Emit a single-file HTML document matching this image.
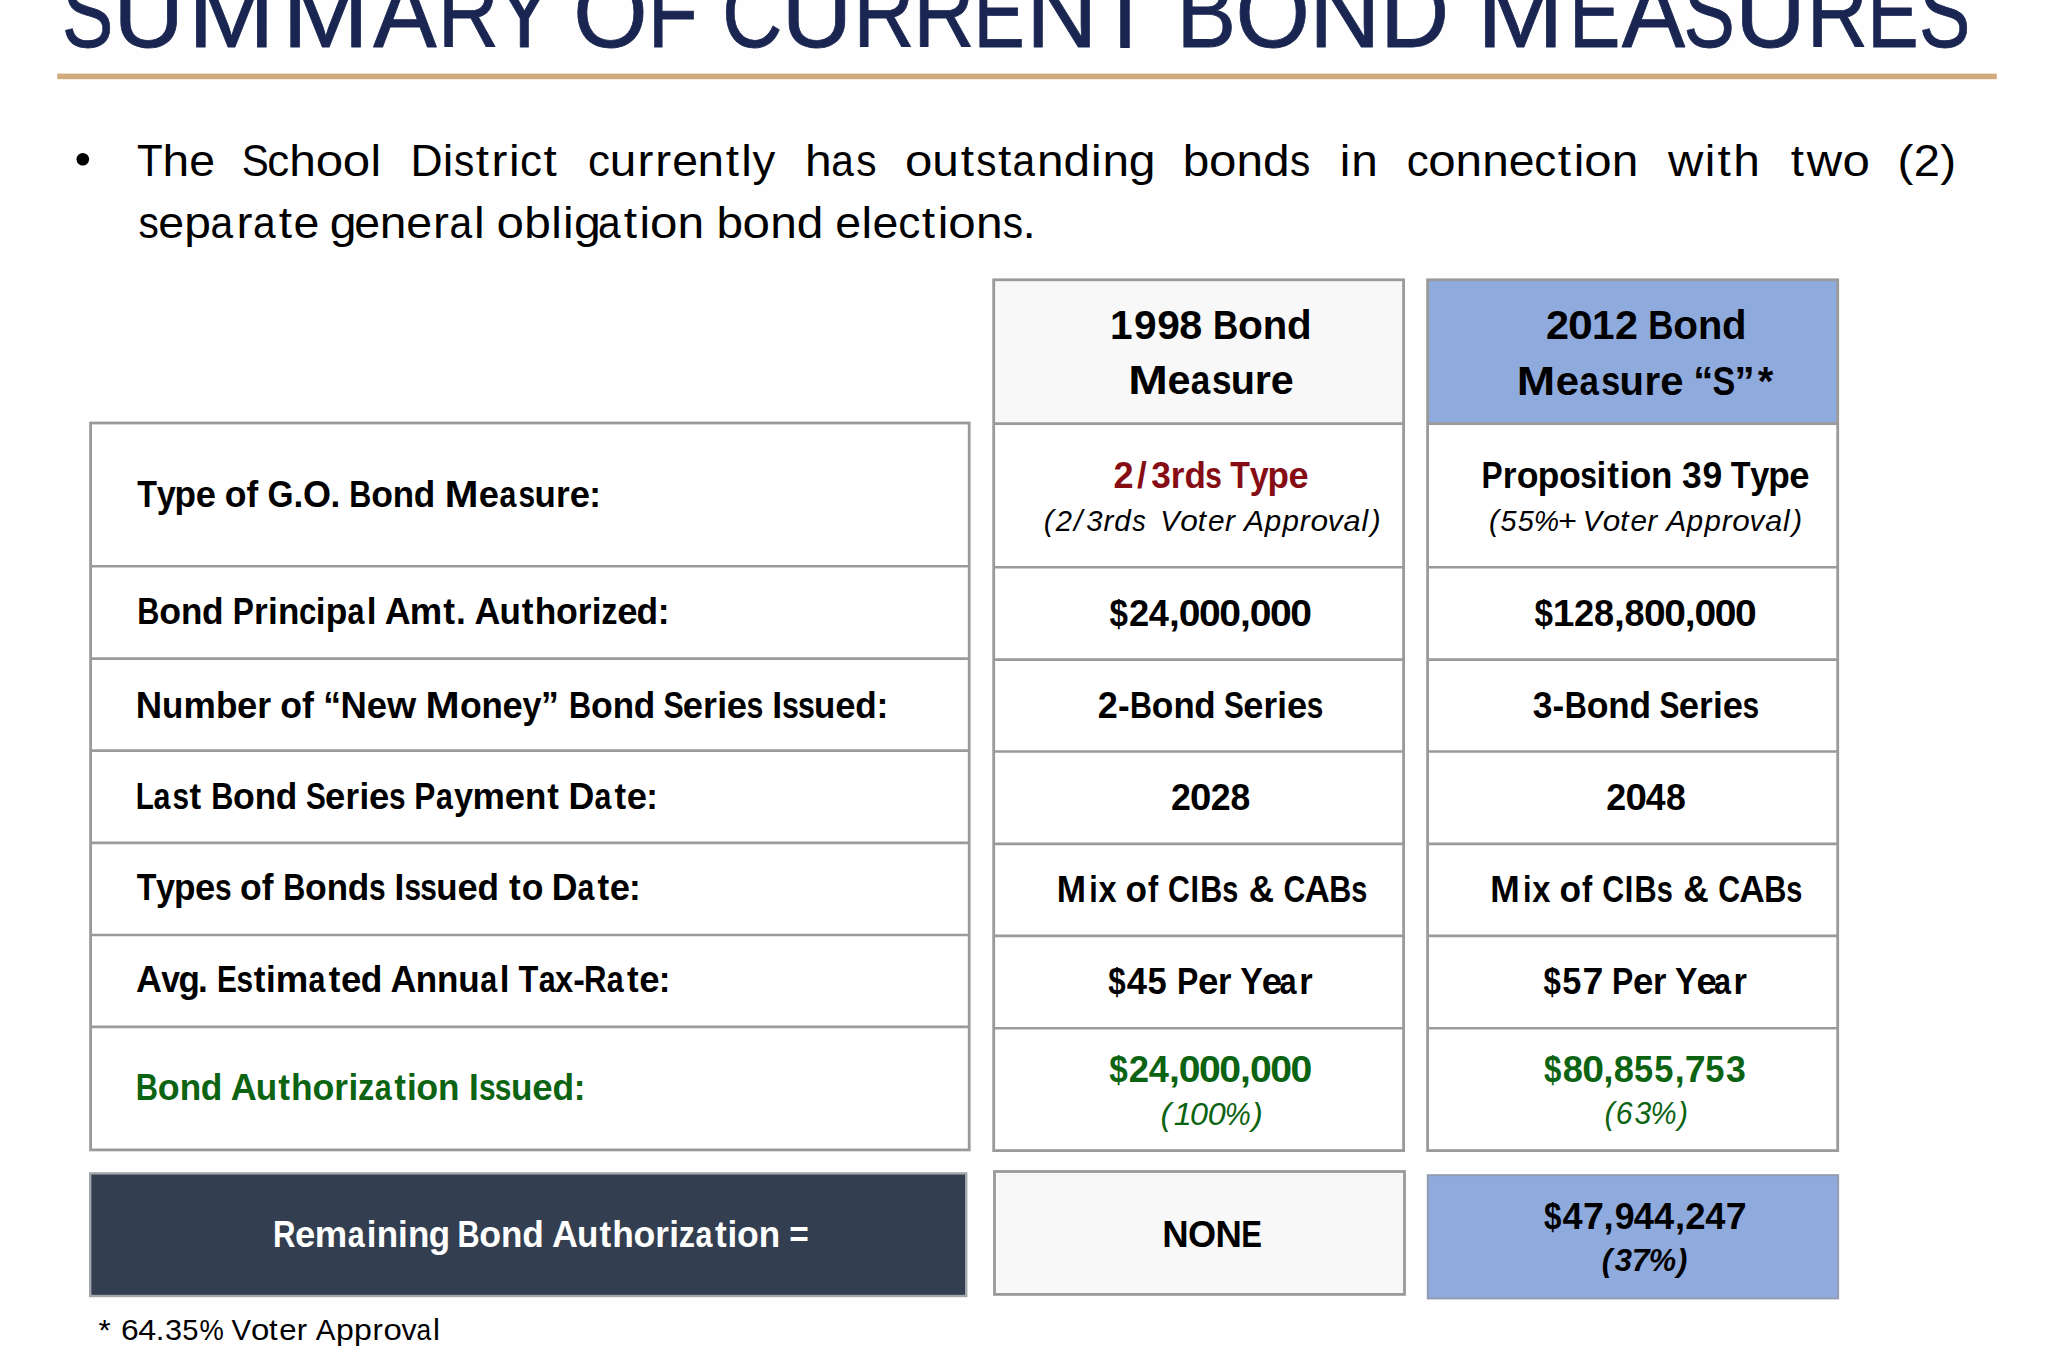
<!DOCTYPE html>
<html><head><meta charset="utf-8"><title>Summary of Current Bond Measures</title>
<style>
html,body{margin:0;padding:0;background:#fff;width:2048px;height:1365px;overflow:hidden}
svg{display:block}
text{font-family:"Liberation Sans",Arial,sans-serif;white-space:pre;stroke-linejoin:round}
</style></head><body>
<svg width="2048" height="1365" viewBox="0 0 2048 1365">
<rect x="0" y="0" width="2048" height="1365" fill="#fefefe"/>
<rect x="57.3" y="73.6" width="1939.50" height="5.60" fill="#d1aa7e"/>
<circle cx="82.8" cy="159.2" r="6.3" fill="#000"/>
<rect x="90.6" y="423.0" width="878.60" height="726.90" fill="#ffffff" stroke="#9a9a9a" stroke-width="2.8"/>
<line x1="90.6" y1="566.3" x2="969.2" y2="566.3" stroke="#9a9a9a" stroke-width="2.6"/>
<line x1="90.6" y1="658.6" x2="969.2" y2="658.6" stroke="#9a9a9a" stroke-width="2.6"/>
<line x1="90.6" y1="750.6" x2="969.2" y2="750.6" stroke="#9a9a9a" stroke-width="2.6"/>
<line x1="90.6" y1="842.9" x2="969.2" y2="842.9" stroke="#9a9a9a" stroke-width="2.6"/>
<line x1="90.6" y1="935.0" x2="969.2" y2="935.0" stroke="#9a9a9a" stroke-width="2.6"/>
<line x1="90.6" y1="1026.9" x2="969.2" y2="1026.9" stroke="#9a9a9a" stroke-width="2.6"/>
<rect x="993.7" y="279.8" width="409.90" height="870.80" fill="#ffffff"/>
<rect x="993.7" y="279.8" width="409.90" height="143.80" fill="#f8f8f8"/>
<line x1="993.7" y1="423.6" x2="1403.6" y2="423.6" stroke="#9a9a9a" stroke-width="2.6"/>
<line x1="993.7" y1="567.3" x2="1403.6" y2="567.3" stroke="#9a9a9a" stroke-width="2.6"/>
<line x1="993.7" y1="659.6" x2="1403.6" y2="659.6" stroke="#9a9a9a" stroke-width="2.6"/>
<line x1="993.7" y1="751.5" x2="1403.6" y2="751.5" stroke="#9a9a9a" stroke-width="2.6"/>
<line x1="993.7" y1="843.9" x2="1403.6" y2="843.9" stroke="#9a9a9a" stroke-width="2.6"/>
<line x1="993.7" y1="935.9" x2="1403.6" y2="935.9" stroke="#9a9a9a" stroke-width="2.6"/>
<line x1="993.7" y1="1028.2" x2="1403.6" y2="1028.2" stroke="#9a9a9a" stroke-width="2.6"/>
<rect x="993.7" y="279.8" width="409.90" height="870.80" fill="none" stroke="#9a9a9a" stroke-width="2.8"/>
<rect x="1427.6" y="279.8" width="410.10" height="870.80" fill="#ffffff"/>
<rect x="1427.6" y="279.8" width="410.10" height="143.80" fill="#8faadc"/>
<line x1="1427.6" y1="423.6" x2="1837.7" y2="423.6" stroke="#9a9a9a" stroke-width="2.6"/>
<line x1="1427.6" y1="567.3" x2="1837.7" y2="567.3" stroke="#9a9a9a" stroke-width="2.6"/>
<line x1="1427.6" y1="659.6" x2="1837.7" y2="659.6" stroke="#9a9a9a" stroke-width="2.6"/>
<line x1="1427.6" y1="751.5" x2="1837.7" y2="751.5" stroke="#9a9a9a" stroke-width="2.6"/>
<line x1="1427.6" y1="843.9" x2="1837.7" y2="843.9" stroke="#9a9a9a" stroke-width="2.6"/>
<line x1="1427.6" y1="935.9" x2="1837.7" y2="935.9" stroke="#9a9a9a" stroke-width="2.6"/>
<line x1="1427.6" y1="1028.2" x2="1837.7" y2="1028.2" stroke="#9a9a9a" stroke-width="2.6"/>
<rect x="1427.6" y="279.8" width="410.10" height="870.80" fill="none" stroke="#9a9a9a" stroke-width="2.8"/>
<rect x="90.2" y="1173.4" width="876.00" height="122.60" fill="#333f50" stroke="#a3a6ab" stroke-width="2.4"/>
<rect x="994.5" y="1171.5" width="410.00" height="122.90" fill="#f8f8f8" stroke="#9a9a9a" stroke-width="2.8"/>
<rect x="1427.8" y="1175.2" width="410.30" height="123.20" fill="#8faadc" stroke="#939cb0" stroke-width="2.0"/>
<text y="47.40" font-size="99.56" fill="#1a2651" stroke="#1a2651" stroke-width="0.8"><tspan x="61.89" textLength="51.34" lengthAdjust="spacingAndGlyphs">S</tspan><tspan x="113.33" textLength="70.87" lengthAdjust="spacingAndGlyphs">U</tspan><tspan x="187.99" textLength="86.75" lengthAdjust="spacingAndGlyphs">M</tspan><tspan x="282.37" textLength="86.75" lengthAdjust="spacingAndGlyphs">M</tspan><tspan x="373.18" textLength="63.43" lengthAdjust="spacingAndGlyphs">A</tspan><tspan x="437.76" textLength="61.29" lengthAdjust="spacingAndGlyphs">R</tspan><tspan x="494.84" textLength="57.58" lengthAdjust="spacingAndGlyphs">Y</tspan> <tspan x="573.21" textLength="74.44" lengthAdjust="spacingAndGlyphs">O</tspan><tspan x="647.66" textLength="50.12" lengthAdjust="spacingAndGlyphs">F</tspan> <tspan x="721.98" textLength="60.54" lengthAdjust="spacingAndGlyphs">C</tspan><tspan x="781.46" textLength="70.87" lengthAdjust="spacingAndGlyphs">U</tspan><tspan x="853.27" textLength="61.29" lengthAdjust="spacingAndGlyphs">R</tspan><tspan x="913.20" textLength="61.29" lengthAdjust="spacingAndGlyphs">R</tspan><tspan x="973.54" textLength="51.34" lengthAdjust="spacingAndGlyphs">E</tspan><tspan x="1025.93" textLength="71.49" lengthAdjust="spacingAndGlyphs">N</tspan><tspan x="1096.59" textLength="55.32" lengthAdjust="spacingAndGlyphs">T</tspan> <tspan x="1176.51" textLength="59.58" lengthAdjust="spacingAndGlyphs">B</tspan><tspan x="1235.47" textLength="74.44" lengthAdjust="spacingAndGlyphs">O</tspan><tspan x="1309.06" textLength="71.49" lengthAdjust="spacingAndGlyphs">N</tspan><tspan x="1380.09" textLength="69.20" lengthAdjust="spacingAndGlyphs">D</tspan> <tspan x="1477.14" textLength="86.75" lengthAdjust="spacingAndGlyphs">M</tspan><tspan x="1569.07" textLength="51.34" lengthAdjust="spacingAndGlyphs">E</tspan><tspan x="1621.85" textLength="63.43" lengthAdjust="spacingAndGlyphs">A</tspan><tspan x="1683.54" textLength="51.34" lengthAdjust="spacingAndGlyphs">S</tspan><tspan x="1734.98" textLength="70.87" lengthAdjust="spacingAndGlyphs">U</tspan><tspan x="1806.79" textLength="61.29" lengthAdjust="spacingAndGlyphs">R</tspan><tspan x="1867.13" textLength="51.34" lengthAdjust="spacingAndGlyphs">E</tspan><tspan x="1918.91" textLength="51.34" lengthAdjust="spacingAndGlyphs">S</tspan></text>
<text y="338.90" font-size="40.99" font-weight="bold" fill="#000000"><tspan x="1110.07" textLength="22.58" lengthAdjust="spacingAndGlyphs">1</tspan><tspan x="1134.03" textLength="22.58" lengthAdjust="spacingAndGlyphs">9</tspan><tspan x="1157.15" textLength="22.58" lengthAdjust="spacingAndGlyphs">9</tspan><tspan x="1179.25" textLength="22.98" lengthAdjust="spacingAndGlyphs">8</tspan> <tspan x="1212.93" textLength="25.37" lengthAdjust="spacingAndGlyphs">B</tspan><tspan x="1237.98" textLength="24.95" lengthAdjust="spacingAndGlyphs">o</tspan><tspan x="1262.83" textLength="24.45" lengthAdjust="spacingAndGlyphs">n</tspan><tspan x="1286.94" textLength="24.62" lengthAdjust="spacingAndGlyphs">d</tspan></text>
<text y="394.40" font-size="40.99" font-weight="bold" fill="#000000"><tspan x="1128.26" textLength="39.58" lengthAdjust="spacingAndGlyphs">M</tspan><tspan x="1167.53" textLength="22.98" lengthAdjust="spacingAndGlyphs">e</tspan><tspan x="1190.84" textLength="19.53" lengthAdjust="spacingAndGlyphs">a</tspan><tspan x="1212.05" textLength="19.53" lengthAdjust="spacingAndGlyphs">s</tspan><tspan x="1230.63" textLength="24.18" lengthAdjust="spacingAndGlyphs">u</tspan><tspan x="1254.74" textLength="16.08" lengthAdjust="spacingAndGlyphs">r</tspan><tspan x="1270.73" textLength="22.98" lengthAdjust="spacingAndGlyphs">e</tspan></text>
<text y="338.90" font-size="40.99" font-weight="bold" fill="#000000"><tspan x="1545.97" textLength="22.97" lengthAdjust="spacingAndGlyphs">2</tspan><tspan x="1568.03" textLength="24.70" lengthAdjust="spacingAndGlyphs">0</tspan><tspan x="1591.99" textLength="22.59" lengthAdjust="spacingAndGlyphs">1</tspan><tspan x="1614.93" textLength="22.97" lengthAdjust="spacingAndGlyphs">2</tspan> <tspan x="1648.37" textLength="25.23" lengthAdjust="spacingAndGlyphs">B</tspan><tspan x="1673.28" textLength="24.81" lengthAdjust="spacingAndGlyphs">o</tspan><tspan x="1697.99" textLength="24.31" lengthAdjust="spacingAndGlyphs">n</tspan><tspan x="1721.96" textLength="24.48" lengthAdjust="spacingAndGlyphs">d</tspan></text>
<text y="394.80" font-size="40.99" font-weight="bold" fill="#000000"><tspan x="1516.76" textLength="38.41" lengthAdjust="spacingAndGlyphs">M</tspan><tspan x="1555.70" textLength="23.28" lengthAdjust="spacingAndGlyphs">e</tspan><tspan x="1579.54" textLength="19.36" lengthAdjust="spacingAndGlyphs">a</tspan><tspan x="1601.21" textLength="18.96" lengthAdjust="spacingAndGlyphs">s</tspan><tspan x="1619.62" textLength="24.49" lengthAdjust="spacingAndGlyphs">u</tspan><tspan x="1644.42" textLength="15.61" lengthAdjust="spacingAndGlyphs">r</tspan><tspan x="1660.24" textLength="23.28" lengthAdjust="spacingAndGlyphs">e</tspan> <tspan x="1693.29" textLength="20.05" lengthAdjust="spacingAndGlyphs">“</tspan><tspan x="1712.51" textLength="22.73" lengthAdjust="spacingAndGlyphs">S</tspan><tspan x="1734.54" textLength="20.05" lengthAdjust="spacingAndGlyphs">”</tspan><tspan x="1757.70" textLength="15.61" lengthAdjust="spacingAndGlyphs">*</tspan></text>
<text y="506.70" font-size="36.77" font-weight="bold" fill="#000000"><tspan x="137.24" textLength="19.68" lengthAdjust="spacingAndGlyphs">T</tspan><tspan x="156.72" textLength="19.02" lengthAdjust="spacingAndGlyphs">y</tspan><tspan x="174.57" textLength="21.47" lengthAdjust="spacingAndGlyphs">p</tspan><tspan x="195.63" textLength="20.24" lengthAdjust="spacingAndGlyphs">e</tspan> <tspan x="224.63" textLength="21.74" lengthAdjust="spacingAndGlyphs">o</tspan><tspan x="246.41" textLength="11.69" lengthAdjust="spacingAndGlyphs">f</tspan> <tspan x="267.41" textLength="26.03" lengthAdjust="spacingAndGlyphs">G</tspan><tspan x="293.50" textLength="9.76" lengthAdjust="spacingAndGlyphs">.</tspan><tspan x="303.12" textLength="28.02" lengthAdjust="spacingAndGlyphs">O</tspan><tspan x="330.50" textLength="9.76" lengthAdjust="spacingAndGlyphs">.</tspan> <tspan x="349.33" textLength="22.10" lengthAdjust="spacingAndGlyphs">B</tspan><tspan x="371.15" textLength="21.74" lengthAdjust="spacingAndGlyphs">o</tspan><tspan x="392.81" textLength="21.30" lengthAdjust="spacingAndGlyphs">n</tspan><tspan x="413.81" textLength="21.45" lengthAdjust="spacingAndGlyphs">d</tspan> <tspan x="444.88" textLength="33.64" lengthAdjust="spacingAndGlyphs">M</tspan><tspan x="478.86" textLength="20.24" lengthAdjust="spacingAndGlyphs">e</tspan><tspan x="499.60" textLength="16.84" lengthAdjust="spacingAndGlyphs">a</tspan><tspan x="518.39" textLength="16.60" lengthAdjust="spacingAndGlyphs">s</tspan><tspan x="534.45" textLength="21.30" lengthAdjust="spacingAndGlyphs">u</tspan><tspan x="555.97" textLength="13.67" lengthAdjust="spacingAndGlyphs">r</tspan><tspan x="569.78" textLength="20.24" lengthAdjust="spacingAndGlyphs">e</tspan><tspan x="589.19" textLength="11.69" lengthAdjust="spacingAndGlyphs">:</tspan></text>
<text y="624.30" font-size="36.77" font-weight="bold" fill="#000000"><tspan x="137.25" textLength="22.18" lengthAdjust="spacingAndGlyphs">B</tspan><tspan x="159.15" textLength="21.82" lengthAdjust="spacingAndGlyphs">o</tspan><tspan x="180.89" textLength="21.38" lengthAdjust="spacingAndGlyphs">n</tspan><tspan x="201.96" textLength="21.53" lengthAdjust="spacingAndGlyphs">d</tspan> <tspan x="232.71" textLength="21.16" lengthAdjust="spacingAndGlyphs">P</tspan><tspan x="253.94" textLength="13.72" lengthAdjust="spacingAndGlyphs">r</tspan><tspan x="267.99" textLength="9.79" lengthAdjust="spacingAndGlyphs">i</tspan><tspan x="277.90" textLength="21.38" lengthAdjust="spacingAndGlyphs">n</tspan><tspan x="299.05" textLength="17.34" lengthAdjust="spacingAndGlyphs">c</tspan><tspan x="315.87" textLength="9.79" lengthAdjust="spacingAndGlyphs">i</tspan><tspan x="325.75" textLength="21.55" lengthAdjust="spacingAndGlyphs">p</tspan><tspan x="347.61" textLength="16.90" lengthAdjust="spacingAndGlyphs">a</tspan><tspan x="366.80" textLength="9.79" lengthAdjust="spacingAndGlyphs">l</tspan> <tspan x="384.76" textLength="25.91" lengthAdjust="spacingAndGlyphs">A</tspan><tspan x="409.83" textLength="32.46" lengthAdjust="spacingAndGlyphs">m</tspan><tspan x="443.13" textLength="11.74" lengthAdjust="spacingAndGlyphs">t</tspan><tspan x="456.09" textLength="9.79" lengthAdjust="spacingAndGlyphs">.</tspan> <tspan x="474.50" textLength="25.91" lengthAdjust="spacingAndGlyphs">A</tspan><tspan x="499.39" textLength="21.38" lengthAdjust="spacingAndGlyphs">u</tspan><tspan x="521.82" textLength="11.74" lengthAdjust="spacingAndGlyphs">t</tspan><tspan x="534.68" textLength="21.56" lengthAdjust="spacingAndGlyphs">h</tspan><tspan x="555.92" textLength="21.82" lengthAdjust="spacingAndGlyphs">o</tspan><tspan x="577.66" textLength="13.72" lengthAdjust="spacingAndGlyphs">r</tspan><tspan x="591.71" textLength="9.79" lengthAdjust="spacingAndGlyphs">i</tspan><tspan x="601.29" textLength="16.22" lengthAdjust="spacingAndGlyphs">z</tspan><tspan x="617.17" textLength="20.32" lengthAdjust="spacingAndGlyphs">e</tspan><tspan x="636.49" textLength="21.53" lengthAdjust="spacingAndGlyphs">d</tspan><tspan x="657.76" textLength="11.74" lengthAdjust="spacingAndGlyphs">:</tspan></text>
<text y="717.60" font-size="36.77" font-weight="bold" fill="#000000"><tspan x="135.86" textLength="26.37" lengthAdjust="spacingAndGlyphs">N</tspan><tspan x="162.05" textLength="21.33" lengthAdjust="spacingAndGlyphs">u</tspan><tspan x="183.57" textLength="32.38" lengthAdjust="spacingAndGlyphs">m</tspan><tspan x="215.93" textLength="21.47" lengthAdjust="spacingAndGlyphs">b</tspan><tspan x="236.99" textLength="20.27" lengthAdjust="spacingAndGlyphs">e</tspan><tspan x="257.23" textLength="13.86" lengthAdjust="spacingAndGlyphs">r</tspan> <tspan x="280.16" textLength="21.76" lengthAdjust="spacingAndGlyphs">o</tspan><tspan x="301.89" textLength="11.86" lengthAdjust="spacingAndGlyphs">f</tspan> <tspan x="323.14" textLength="17.81" lengthAdjust="spacingAndGlyphs">“</tspan><tspan x="340.55" textLength="26.37" lengthAdjust="spacingAndGlyphs">N</tspan><tspan x="366.63" textLength="20.27" lengthAdjust="spacingAndGlyphs">e</tspan><tspan x="387.10" textLength="29.19" lengthAdjust="spacingAndGlyphs">w</tspan> <tspan x="425.62" textLength="34.13" lengthAdjust="spacingAndGlyphs">M</tspan><tspan x="459.88" textLength="21.76" lengthAdjust="spacingAndGlyphs">o</tspan><tspan x="481.56" textLength="21.33" lengthAdjust="spacingAndGlyphs">n</tspan><tspan x="502.60" textLength="20.27" lengthAdjust="spacingAndGlyphs">e</tspan><tspan x="522.62" textLength="19.04" lengthAdjust="spacingAndGlyphs">y</tspan><tspan x="540.93" textLength="17.81" lengthAdjust="spacingAndGlyphs">”</tspan> <tspan x="569.12" textLength="22.13" lengthAdjust="spacingAndGlyphs">B</tspan><tspan x="590.97" textLength="21.76" lengthAdjust="spacingAndGlyphs">o</tspan><tspan x="612.65" textLength="21.33" lengthAdjust="spacingAndGlyphs">n</tspan><tspan x="633.68" textLength="21.47" lengthAdjust="spacingAndGlyphs">d</tspan> <tspan x="663.46" textLength="20.20" lengthAdjust="spacingAndGlyphs">S</tspan><tspan x="682.84" textLength="20.27" lengthAdjust="spacingAndGlyphs">e</tspan><tspan x="703.07" textLength="13.86" lengthAdjust="spacingAndGlyphs">r</tspan><tspan x="717.13" textLength="9.90" lengthAdjust="spacingAndGlyphs">i</tspan><tspan x="726.78" textLength="20.27" lengthAdjust="spacingAndGlyphs">e</tspan><tspan x="746.59" textLength="16.84" lengthAdjust="spacingAndGlyphs">s</tspan> <tspan x="772.22" textLength="9.90" lengthAdjust="spacingAndGlyphs">I</tspan><tspan x="782.06" textLength="16.84" lengthAdjust="spacingAndGlyphs">s</tspan><tspan x="797.93" textLength="16.84" lengthAdjust="spacingAndGlyphs">s</tspan><tspan x="814.12" textLength="21.33" lengthAdjust="spacingAndGlyphs">u</tspan><tspan x="835.36" textLength="20.27" lengthAdjust="spacingAndGlyphs">e</tspan><tspan x="855.37" textLength="21.47" lengthAdjust="spacingAndGlyphs">d</tspan><tspan x="876.51" textLength="11.86" lengthAdjust="spacingAndGlyphs">:</tspan></text>
<text y="809.00" font-size="36.77" font-weight="bold" fill="#000000"><tspan x="135.73" textLength="18.15" lengthAdjust="spacingAndGlyphs">L</tspan><tspan x="153.57" textLength="16.88" lengthAdjust="spacingAndGlyphs">a</tspan><tspan x="172.47" textLength="16.53" lengthAdjust="spacingAndGlyphs">s</tspan><tspan x="189.57" textLength="11.64" lengthAdjust="spacingAndGlyphs">t</tspan> <tspan x="211.23" textLength="22.16" lengthAdjust="spacingAndGlyphs">B</tspan><tspan x="233.10" textLength="21.79" lengthAdjust="spacingAndGlyphs">o</tspan><tspan x="254.81" textLength="21.35" lengthAdjust="spacingAndGlyphs">n</tspan><tspan x="275.86" textLength="21.50" lengthAdjust="spacingAndGlyphs">d</tspan> <tspan x="305.88" textLength="19.82" lengthAdjust="spacingAndGlyphs">S</tspan><tspan x="325.09" textLength="20.29" lengthAdjust="spacingAndGlyphs">e</tspan><tspan x="345.51" textLength="13.60" lengthAdjust="spacingAndGlyphs">r</tspan><tspan x="359.52" textLength="9.71" lengthAdjust="spacingAndGlyphs">i</tspan><tspan x="369.08" textLength="20.29" lengthAdjust="spacingAndGlyphs">e</tspan><tspan x="389.10" textLength="16.53" lengthAdjust="spacingAndGlyphs">s</tspan> <tspan x="414.35" textLength="21.14" lengthAdjust="spacingAndGlyphs">P</tspan><tspan x="435.96" textLength="16.88" lengthAdjust="spacingAndGlyphs">a</tspan><tspan x="454.11" textLength="19.07" lengthAdjust="spacingAndGlyphs">y</tspan><tspan x="472.55" textLength="32.42" lengthAdjust="spacingAndGlyphs">m</tspan><tspan x="504.67" textLength="20.29" lengthAdjust="spacingAndGlyphs">e</tspan><tspan x="525.03" textLength="21.35" lengthAdjust="spacingAndGlyphs">n</tspan><tspan x="547.27" textLength="11.64" lengthAdjust="spacingAndGlyphs">t</tspan> <tspan x="568.60" textLength="25.83" lengthAdjust="spacingAndGlyphs">D</tspan><tspan x="594.38" textLength="16.88" lengthAdjust="spacingAndGlyphs">a</tspan><tspan x="614.49" textLength="11.64" lengthAdjust="spacingAndGlyphs">t</tspan><tspan x="626.75" textLength="20.29" lengthAdjust="spacingAndGlyphs">e</tspan><tspan x="646.21" textLength="11.64" lengthAdjust="spacingAndGlyphs">:</tspan></text>
<text y="900.40" font-size="36.77" font-weight="bold" fill="#000000"><tspan x="136.64" textLength="19.69" lengthAdjust="spacingAndGlyphs">T</tspan><tspan x="156.12" textLength="19.02" lengthAdjust="spacingAndGlyphs">y</tspan><tspan x="173.98" textLength="21.48" lengthAdjust="spacingAndGlyphs">p</tspan><tspan x="195.04" textLength="20.25" lengthAdjust="spacingAndGlyphs">e</tspan><tspan x="214.95" textLength="16.60" lengthAdjust="spacingAndGlyphs">s</tspan> <tspan x="239.90" textLength="21.74" lengthAdjust="spacingAndGlyphs">o</tspan><tspan x="261.68" textLength="11.70" lengthAdjust="spacingAndGlyphs">f</tspan> <tspan x="283.27" textLength="22.11" lengthAdjust="spacingAndGlyphs">B</tspan><tspan x="305.10" textLength="21.74" lengthAdjust="spacingAndGlyphs">o</tspan><tspan x="326.76" textLength="21.31" lengthAdjust="spacingAndGlyphs">n</tspan><tspan x="347.76" textLength="21.45" lengthAdjust="spacingAndGlyphs">d</tspan><tspan x="369.01" textLength="16.60" lengthAdjust="spacingAndGlyphs">s</tspan> <tspan x="394.56" textLength="9.76" lengthAdjust="spacingAndGlyphs">I</tspan><tspan x="404.44" textLength="16.60" lengthAdjust="spacingAndGlyphs">s</tspan><tspan x="420.30" textLength="16.60" lengthAdjust="spacingAndGlyphs">s</tspan><tspan x="436.36" textLength="21.31" lengthAdjust="spacingAndGlyphs">u</tspan><tspan x="457.58" textLength="20.25" lengthAdjust="spacingAndGlyphs">e</tspan><tspan x="477.57" textLength="21.45" lengthAdjust="spacingAndGlyphs">d</tspan> <tspan x="509.03" textLength="11.70" lengthAdjust="spacingAndGlyphs">t</tspan><tspan x="521.69" textLength="21.74" lengthAdjust="spacingAndGlyphs">o</tspan> <tspan x="551.70" textLength="25.78" lengthAdjust="spacingAndGlyphs">D</tspan><tspan x="577.42" textLength="16.84" lengthAdjust="spacingAndGlyphs">a</tspan><tspan x="597.44" textLength="11.70" lengthAdjust="spacingAndGlyphs">t</tspan><tspan x="609.72" textLength="20.25" lengthAdjust="spacingAndGlyphs">e</tspan><tspan x="629.09" textLength="11.70" lengthAdjust="spacingAndGlyphs">:</tspan></text>
<text y="991.80" font-size="36.77" font-weight="bold" fill="#000000"><tspan x="136.11" textLength="25.95" lengthAdjust="spacingAndGlyphs">A</tspan><tspan x="161.21" textLength="18.75" lengthAdjust="spacingAndGlyphs">v</tspan><tspan x="178.53" textLength="21.36" lengthAdjust="spacingAndGlyphs">g</tspan><tspan x="198.03" textLength="9.72" lengthAdjust="spacingAndGlyphs">.</tspan> <tspan x="217.11" textLength="19.83" lengthAdjust="spacingAndGlyphs">E</tspan><tspan x="236.49" textLength="16.53" lengthAdjust="spacingAndGlyphs">s</tspan><tspan x="253.64" textLength="11.65" lengthAdjust="spacingAndGlyphs">t</tspan><tspan x="266.08" textLength="9.72" lengthAdjust="spacingAndGlyphs">i</tspan><tspan x="275.66" textLength="32.51" lengthAdjust="spacingAndGlyphs">m</tspan><tspan x="308.60" textLength="16.92" lengthAdjust="spacingAndGlyphs">a</tspan><tspan x="328.78" textLength="11.65" lengthAdjust="spacingAndGlyphs">t</tspan><tspan x="341.06" textLength="20.35" lengthAdjust="spacingAndGlyphs">e</tspan><tspan x="360.66" textLength="21.56" lengthAdjust="spacingAndGlyphs">d</tspan> <tspan x="390.52" textLength="25.95" lengthAdjust="spacingAndGlyphs">A</tspan><tspan x="415.65" textLength="21.41" lengthAdjust="spacingAndGlyphs">n</tspan><tspan x="437.08" textLength="21.41" lengthAdjust="spacingAndGlyphs">n</tspan><tspan x="458.32" textLength="21.41" lengthAdjust="spacingAndGlyphs">u</tspan><tspan x="480.37" textLength="16.92" lengthAdjust="spacingAndGlyphs">a</tspan><tspan x="499.63" textLength="9.72" lengthAdjust="spacingAndGlyphs">l</tspan> <tspan x="518.38" textLength="19.78" lengthAdjust="spacingAndGlyphs">T</tspan><tspan x="538.70" textLength="16.92" lengthAdjust="spacingAndGlyphs">a</tspan><tspan x="554.95" textLength="18.19" lengthAdjust="spacingAndGlyphs">x</tspan><tspan x="573.15" textLength="11.65" lengthAdjust="spacingAndGlyphs">-</tspan><tspan x="584.02" textLength="22.52" lengthAdjust="spacingAndGlyphs">R</tspan><tspan x="606.82" textLength="16.92" lengthAdjust="spacingAndGlyphs">a</tspan><tspan x="627.00" textLength="11.65" lengthAdjust="spacingAndGlyphs">t</tspan><tspan x="639.28" textLength="20.35" lengthAdjust="spacingAndGlyphs">e</tspan><tspan x="658.80" textLength="11.65" lengthAdjust="spacingAndGlyphs">:</tspan></text>
<text y="1100.00" font-size="36.77" font-weight="bold" fill="#0c6312"><tspan x="135.84" textLength="22.26" lengthAdjust="spacingAndGlyphs">B</tspan><tspan x="157.82" textLength="21.89" lengthAdjust="spacingAndGlyphs">o</tspan><tspan x="179.64" textLength="21.46" lengthAdjust="spacingAndGlyphs">n</tspan><tspan x="200.79" textLength="21.61" lengthAdjust="spacingAndGlyphs">d</tspan> <tspan x="230.72" textLength="26.00" lengthAdjust="spacingAndGlyphs">A</tspan><tspan x="255.70" textLength="21.46" lengthAdjust="spacingAndGlyphs">u</tspan><tspan x="278.25" textLength="11.70" lengthAdjust="spacingAndGlyphs">t</tspan><tspan x="291.11" textLength="21.63" lengthAdjust="spacingAndGlyphs">h</tspan><tspan x="312.43" textLength="21.89" lengthAdjust="spacingAndGlyphs">o</tspan><tspan x="334.31" textLength="13.67" lengthAdjust="spacingAndGlyphs">r</tspan><tspan x="348.39" textLength="9.76" lengthAdjust="spacingAndGlyphs">i</tspan><tspan x="357.97" textLength="16.28" lengthAdjust="spacingAndGlyphs">z</tspan><tspan x="374.64" textLength="16.96" lengthAdjust="spacingAndGlyphs">a</tspan><tspan x="394.34" textLength="11.70" lengthAdjust="spacingAndGlyphs">t</tspan><tspan x="406.89" textLength="9.76" lengthAdjust="spacingAndGlyphs">i</tspan><tspan x="416.23" textLength="21.89" lengthAdjust="spacingAndGlyphs">o</tspan><tspan x="438.05" textLength="21.46" lengthAdjust="spacingAndGlyphs">n</tspan> <tspan x="468.92" textLength="9.76" lengthAdjust="spacingAndGlyphs">I</tspan><tspan x="478.89" textLength="16.61" lengthAdjust="spacingAndGlyphs">s</tspan><tspan x="494.86" textLength="16.61" lengthAdjust="spacingAndGlyphs">s</tspan><tspan x="510.98" textLength="21.46" lengthAdjust="spacingAndGlyphs">u</tspan><tspan x="532.35" textLength="20.39" lengthAdjust="spacingAndGlyphs">e</tspan><tspan x="552.48" textLength="21.61" lengthAdjust="spacingAndGlyphs">d</tspan><tspan x="573.87" textLength="11.70" lengthAdjust="spacingAndGlyphs">:</tspan></text>
<text y="487.70" font-size="36.77" font-weight="bold" fill="#860d14"><tspan x="1113.45" textLength="20.08" lengthAdjust="spacingAndGlyphs">2</tspan><tspan x="1137.12" textLength="9.74" lengthAdjust="spacingAndGlyphs">/</tspan><tspan x="1151.15" textLength="19.60" lengthAdjust="spacingAndGlyphs">3</tspan><tspan x="1170.68" textLength="13.65" lengthAdjust="spacingAndGlyphs">r</tspan><tspan x="1184.44" textLength="21.40" lengthAdjust="spacingAndGlyphs">d</tspan><tspan x="1205.14" textLength="16.58" lengthAdjust="spacingAndGlyphs">s</tspan> <tspan x="1230.21" textLength="19.63" lengthAdjust="spacingAndGlyphs">T</tspan><tspan x="1249.64" textLength="18.97" lengthAdjust="spacingAndGlyphs">y</tspan><tspan x="1267.45" textLength="21.42" lengthAdjust="spacingAndGlyphs">p</tspan><tspan x="1288.45" textLength="20.19" lengthAdjust="spacingAndGlyphs">e</tspan></text>
<text y="530.80" font-size="30.23" font-style="italic" fill="#000000"><tspan x="1043.69" textLength="9.89" lengthAdjust="spacingAndGlyphs">(</tspan><tspan x="1055.68" textLength="16.24" lengthAdjust="spacingAndGlyphs">2</tspan><tspan x="1074.04" textLength="8.25" lengthAdjust="spacingAndGlyphs">/</tspan><tspan x="1086.26" textLength="16.34" lengthAdjust="spacingAndGlyphs">3</tspan><tspan x="1103.51" textLength="9.89" lengthAdjust="spacingAndGlyphs">r</tspan><tspan x="1114.21" textLength="16.52" lengthAdjust="spacingAndGlyphs">d</tspan><tspan x="1132.14" textLength="13.45" lengthAdjust="spacingAndGlyphs">s</tspan>  <tspan x="1160.26" textLength="19.51" lengthAdjust="spacingAndGlyphs">V</tspan><tspan x="1180.29" textLength="17.62" lengthAdjust="spacingAndGlyphs">o</tspan><tspan x="1197.77" textLength="8.25" lengthAdjust="spacingAndGlyphs">t</tspan><tspan x="1208.04" textLength="16.59" lengthAdjust="spacingAndGlyphs">e</tspan><tspan x="1225.04" textLength="9.89" lengthAdjust="spacingAndGlyphs">r</tspan> <tspan x="1244.11" textLength="20.11" lengthAdjust="spacingAndGlyphs">A</tspan><tspan x="1264.80" textLength="16.43" lengthAdjust="spacingAndGlyphs">p</tspan><tspan x="1282.46" textLength="16.43" lengthAdjust="spacingAndGlyphs">p</tspan><tspan x="1299.78" textLength="9.89" lengthAdjust="spacingAndGlyphs">r</tspan><tspan x="1310.50" textLength="17.62" lengthAdjust="spacingAndGlyphs">o</tspan><tspan x="1327.80" textLength="14.98" lengthAdjust="spacingAndGlyphs">v</tspan><tspan x="1343.52" textLength="17.07" lengthAdjust="spacingAndGlyphs">a</tspan><tspan x="1361.54" textLength="6.60" lengthAdjust="spacingAndGlyphs">l</tspan><tspan x="1370.71" textLength="9.89" lengthAdjust="spacingAndGlyphs">)</tspan></text>
<text y="487.70" font-size="36.77" font-weight="bold" fill="#000000"><tspan x="1481.58" textLength="21.14" lengthAdjust="spacingAndGlyphs">P</tspan><tspan x="1502.78" textLength="13.72" lengthAdjust="spacingAndGlyphs">r</tspan><tspan x="1516.65" textLength="21.80" lengthAdjust="spacingAndGlyphs">o</tspan><tspan x="1537.84" textLength="21.53" lengthAdjust="spacingAndGlyphs">p</tspan><tspan x="1558.97" textLength="21.80" lengthAdjust="spacingAndGlyphs">o</tspan><tspan x="1580.27" textLength="16.67" lengthAdjust="spacingAndGlyphs">s</tspan><tspan x="1596.46" textLength="9.79" lengthAdjust="spacingAndGlyphs">i</tspan><tspan x="1607.19" textLength="11.74" lengthAdjust="spacingAndGlyphs">t</tspan><tspan x="1620.06" textLength="9.79" lengthAdjust="spacingAndGlyphs">i</tspan><tspan x="1629.40" textLength="21.80" lengthAdjust="spacingAndGlyphs">o</tspan><tspan x="1651.12" textLength="21.36" lengthAdjust="spacingAndGlyphs">n</tspan> <tspan x="1682.07" textLength="19.70" lengthAdjust="spacingAndGlyphs">3</tspan><tspan x="1702.53" textLength="19.73" lengthAdjust="spacingAndGlyphs">9</tspan> <tspan x="1730.79" textLength="19.74" lengthAdjust="spacingAndGlyphs">T</tspan><tspan x="1750.33" textLength="19.07" lengthAdjust="spacingAndGlyphs">y</tspan><tspan x="1768.23" textLength="21.53" lengthAdjust="spacingAndGlyphs">p</tspan><tspan x="1789.35" textLength="20.30" lengthAdjust="spacingAndGlyphs">e</tspan></text>
<text y="530.80" font-size="30.23" font-style="italic" fill="#000000"><tspan x="1488.98" textLength="9.88" lengthAdjust="spacingAndGlyphs">(</tspan><tspan x="1500.41" textLength="16.01" lengthAdjust="spacingAndGlyphs">5</tspan><tspan x="1517.73" textLength="16.01" lengthAdjust="spacingAndGlyphs">5</tspan><tspan x="1533.83" textLength="25.35" lengthAdjust="spacingAndGlyphs">%</tspan><tspan x="1557.73" textLength="18.87" lengthAdjust="spacingAndGlyphs">+</tspan> <tspan x="1582.87" textLength="19.41" lengthAdjust="spacingAndGlyphs">V</tspan><tspan x="1602.80" textLength="17.53" lengthAdjust="spacingAndGlyphs">o</tspan><tspan x="1620.17" textLength="8.24" lengthAdjust="spacingAndGlyphs">t</tspan><tspan x="1630.41" textLength="16.50" lengthAdjust="spacingAndGlyphs">e</tspan><tspan x="1647.30" textLength="9.88" lengthAdjust="spacingAndGlyphs">r</tspan> <tspan x="1666.29" textLength="20.00" lengthAdjust="spacingAndGlyphs">A</tspan><tspan x="1686.87" textLength="16.35" lengthAdjust="spacingAndGlyphs">p</tspan><tspan x="1704.44" textLength="16.35" lengthAdjust="spacingAndGlyphs">p</tspan><tspan x="1721.65" textLength="9.88" lengthAdjust="spacingAndGlyphs">r</tspan><tspan x="1732.34" textLength="17.53" lengthAdjust="spacingAndGlyphs">o</tspan><tspan x="1749.55" textLength="14.90" lengthAdjust="spacingAndGlyphs">v</tspan><tspan x="1765.19" textLength="16.98" lengthAdjust="spacingAndGlyphs">a</tspan><tspan x="1783.10" textLength="6.59" lengthAdjust="spacingAndGlyphs">l</tspan><tspan x="1792.23" textLength="9.88" lengthAdjust="spacingAndGlyphs">)</tspan></text>
<text y="625.70" font-size="36.77" font-weight="bold" fill="#000000"><tspan x="1109.49" textLength="18.48" lengthAdjust="spacingAndGlyphs">$</tspan><tspan x="1128.88" textLength="20.22" lengthAdjust="spacingAndGlyphs">2</tspan><tspan x="1148.78" textLength="20.07" lengthAdjust="spacingAndGlyphs">4</tspan><tspan x="1169.01" textLength="10.86" lengthAdjust="spacingAndGlyphs">,</tspan><tspan x="1178.82" textLength="21.74" lengthAdjust="spacingAndGlyphs">0</tspan><tspan x="1199.05" textLength="21.74" lengthAdjust="spacingAndGlyphs">0</tspan><tspan x="1219.28" textLength="21.74" lengthAdjust="spacingAndGlyphs">0</tspan><tspan x="1239.99" textLength="10.86" lengthAdjust="spacingAndGlyphs">,</tspan><tspan x="1249.80" textLength="21.74" lengthAdjust="spacingAndGlyphs">0</tspan><tspan x="1270.03" textLength="21.74" lengthAdjust="spacingAndGlyphs">0</tspan><tspan x="1290.26" textLength="21.74" lengthAdjust="spacingAndGlyphs">0</tspan></text>
<text y="626.10" font-size="36.77" font-weight="bold" fill="#000000"><tspan x="1534.39" textLength="18.44" lengthAdjust="spacingAndGlyphs">$</tspan><tspan x="1552.81" textLength="21.70" lengthAdjust="spacingAndGlyphs">1</tspan><tspan x="1573.94" textLength="20.18" lengthAdjust="spacingAndGlyphs">2</tspan><tspan x="1594.09" textLength="20.07" lengthAdjust="spacingAndGlyphs">8</tspan><tspan x="1613.99" textLength="10.84" lengthAdjust="spacingAndGlyphs">,</tspan><tspan x="1624.55" textLength="20.07" lengthAdjust="spacingAndGlyphs">8</tspan><tspan x="1643.97" textLength="21.70" lengthAdjust="spacingAndGlyphs">0</tspan><tspan x="1664.16" textLength="21.70" lengthAdjust="spacingAndGlyphs">0</tspan><tspan x="1684.83" textLength="10.84" lengthAdjust="spacingAndGlyphs">,</tspan><tspan x="1694.62" textLength="21.70" lengthAdjust="spacingAndGlyphs">0</tspan><tspan x="1714.81" textLength="21.70" lengthAdjust="spacingAndGlyphs">0</tspan><tspan x="1735.00" textLength="21.70" lengthAdjust="spacingAndGlyphs">0</tspan></text>
<text y="718.10" font-size="36.77" font-weight="bold" fill="#000000"><tspan x="1097.75" textLength="20.04" lengthAdjust="spacingAndGlyphs">2</tspan><tspan x="1117.97" textLength="11.64" lengthAdjust="spacingAndGlyphs">-</tspan><tspan x="1130.10" textLength="22.01" lengthAdjust="spacingAndGlyphs">B</tspan><tspan x="1151.83" textLength="21.64" lengthAdjust="spacingAndGlyphs">o</tspan><tspan x="1173.39" textLength="21.21" lengthAdjust="spacingAndGlyphs">n</tspan><tspan x="1194.30" textLength="21.36" lengthAdjust="spacingAndGlyphs">d</tspan> <tspan x="1224.06" textLength="19.82" lengthAdjust="spacingAndGlyphs">S</tspan><tspan x="1243.20" textLength="20.16" lengthAdjust="spacingAndGlyphs">e</tspan><tspan x="1263.43" textLength="13.61" lengthAdjust="spacingAndGlyphs">r</tspan><tspan x="1277.37" textLength="9.71" lengthAdjust="spacingAndGlyphs">i</tspan><tspan x="1286.90" textLength="20.16" lengthAdjust="spacingAndGlyphs">e</tspan><tspan x="1306.72" textLength="16.53" lengthAdjust="spacingAndGlyphs">s</tspan></text>
<text y="718.00" font-size="36.77" font-weight="bold" fill="#000000"><tspan x="1532.79" textLength="19.70" lengthAdjust="spacingAndGlyphs">3</tspan><tspan x="1552.57" textLength="11.72" lengthAdjust="spacingAndGlyphs">-</tspan><tspan x="1564.77" textLength="22.16" lengthAdjust="spacingAndGlyphs">B</tspan><tspan x="1586.66" textLength="21.79" lengthAdjust="spacingAndGlyphs">o</tspan><tspan x="1608.37" textLength="21.36" lengthAdjust="spacingAndGlyphs">n</tspan><tspan x="1629.42" textLength="21.51" lengthAdjust="spacingAndGlyphs">d</tspan> <tspan x="1659.38" textLength="19.96" lengthAdjust="spacingAndGlyphs">S</tspan><tspan x="1678.66" textLength="20.30" lengthAdjust="spacingAndGlyphs">e</tspan><tspan x="1699.03" textLength="13.70" lengthAdjust="spacingAndGlyphs">r</tspan><tspan x="1713.07" textLength="9.78" lengthAdjust="spacingAndGlyphs">i</tspan><tspan x="1722.66" textLength="20.30" lengthAdjust="spacingAndGlyphs">e</tspan><tspan x="1742.62" textLength="16.64" lengthAdjust="spacingAndGlyphs">s</tspan></text>
<text y="810.10" font-size="36.77" font-weight="bold" fill="#000000"><tspan x="1170.96" textLength="19.86" lengthAdjust="spacingAndGlyphs">2</tspan><tspan x="1190.04" textLength="21.36" lengthAdjust="spacingAndGlyphs">0</tspan><tspan x="1210.71" textLength="19.86" lengthAdjust="spacingAndGlyphs">2</tspan><tspan x="1230.54" textLength="19.76" lengthAdjust="spacingAndGlyphs">8</tspan></text>
<text y="810.00" font-size="36.77" font-weight="bold" fill="#000000"><tspan x="1606.26" textLength="19.94" lengthAdjust="spacingAndGlyphs">2</tspan><tspan x="1625.41" textLength="21.44" lengthAdjust="spacingAndGlyphs">0</tspan><tspan x="1645.82" textLength="19.80" lengthAdjust="spacingAndGlyphs">4</tspan><tspan x="1666.06" textLength="19.83" lengthAdjust="spacingAndGlyphs">8</tspan></text>
<text y="902.20" font-size="36.77" font-weight="bold" fill="#000000"><tspan x="1056.71" textLength="29.27" lengthAdjust="spacingAndGlyphs">M</tspan><tspan x="1089.30" textLength="8.49" lengthAdjust="spacingAndGlyphs">i</tspan><tspan x="1098.51" textLength="18.07" lengthAdjust="spacingAndGlyphs">x</tspan> <tspan x="1125.55" textLength="21.46" lengthAdjust="spacingAndGlyphs">o</tspan><tspan x="1147.97" textLength="10.18" lengthAdjust="spacingAndGlyphs">f</tspan> <tspan x="1168.05" textLength="21.85" lengthAdjust="spacingAndGlyphs">C</tspan><tspan x="1190.52" textLength="8.49" lengthAdjust="spacingAndGlyphs">I</tspan><tspan x="1200.31" textLength="22.07" lengthAdjust="spacingAndGlyphs">B</tspan><tspan x="1222.26" textLength="16.03" lengthAdjust="spacingAndGlyphs">s</tspan> <tspan x="1248.82" textLength="25.38" lengthAdjust="spacingAndGlyphs">&amp;</tspan> <tspan x="1283.58" textLength="21.85" lengthAdjust="spacingAndGlyphs">C</tspan><tspan x="1304.39" textLength="25.38" lengthAdjust="spacingAndGlyphs">A</tspan><tspan x="1329.30" textLength="22.07" lengthAdjust="spacingAndGlyphs">B</tspan><tspan x="1351.26" textLength="16.03" lengthAdjust="spacingAndGlyphs">s</tspan></text>
<text y="902.30" font-size="36.77" font-weight="bold" fill="#000000"><tspan x="1490.31" textLength="29.41" lengthAdjust="spacingAndGlyphs">M</tspan><tspan x="1523.05" textLength="8.53" lengthAdjust="spacingAndGlyphs">i</tspan><tspan x="1532.32" textLength="18.16" lengthAdjust="spacingAndGlyphs">x</tspan> <tspan x="1559.49" textLength="21.57" lengthAdjust="spacingAndGlyphs">o</tspan><tspan x="1582.02" textLength="10.22" lengthAdjust="spacingAndGlyphs">f</tspan> <tspan x="1602.19" textLength="21.95" lengthAdjust="spacingAndGlyphs">C</tspan><tspan x="1624.76" textLength="8.53" lengthAdjust="spacingAndGlyphs">I</tspan><tspan x="1634.61" textLength="22.17" lengthAdjust="spacingAndGlyphs">B</tspan><tspan x="1656.66" textLength="16.10" lengthAdjust="spacingAndGlyphs">s</tspan> <tspan x="1683.35" textLength="25.50" lengthAdjust="spacingAndGlyphs">&amp;</tspan> <tspan x="1718.28" textLength="21.95" lengthAdjust="spacingAndGlyphs">C</tspan><tspan x="1739.19" textLength="25.50" lengthAdjust="spacingAndGlyphs">A</tspan><tspan x="1764.23" textLength="22.17" lengthAdjust="spacingAndGlyphs">B</tspan><tspan x="1786.28" textLength="16.10" lengthAdjust="spacingAndGlyphs">s</tspan></text>
<text y="994.20" font-size="36.77" font-weight="bold" fill="#000000"><tspan x="1108.19" textLength="17.39" lengthAdjust="spacingAndGlyphs">$</tspan><tspan x="1126.76" textLength="20.20" lengthAdjust="spacingAndGlyphs">4</tspan><tspan x="1147.47" textLength="19.18" lengthAdjust="spacingAndGlyphs">5</tspan> <tspan x="1176.93" textLength="21.31" lengthAdjust="spacingAndGlyphs">P</tspan><tspan x="1197.98" textLength="20.46" lengthAdjust="spacingAndGlyphs">e</tspan><tspan x="1218.09" textLength="13.42" lengthAdjust="spacingAndGlyphs">r</tspan> <tspan x="1240.24" textLength="22.58" lengthAdjust="spacingAndGlyphs">Y</tspan><tspan x="1261.78" textLength="20.46" lengthAdjust="spacingAndGlyphs">e</tspan><tspan x="1279.52" textLength="17.02" lengthAdjust="spacingAndGlyphs">a</tspan><tspan x="1299.15" textLength="13.42" lengthAdjust="spacingAndGlyphs">r</tspan></text>
<text y="994.10" font-size="36.77" font-weight="bold" fill="#000000"><tspan x="1543.49" textLength="17.31" lengthAdjust="spacingAndGlyphs">$</tspan><tspan x="1562.33" textLength="19.10" lengthAdjust="spacingAndGlyphs">5</tspan><tspan x="1582.49" textLength="20.87" lengthAdjust="spacingAndGlyphs">7</tspan> <tspan x="1611.92" textLength="21.22" lengthAdjust="spacingAndGlyphs">P</tspan><tspan x="1632.89" textLength="20.37" lengthAdjust="spacingAndGlyphs">e</tspan><tspan x="1652.91" textLength="13.36" lengthAdjust="spacingAndGlyphs">r</tspan> <tspan x="1674.96" textLength="22.48" lengthAdjust="spacingAndGlyphs">Y</tspan><tspan x="1696.40" textLength="20.37" lengthAdjust="spacingAndGlyphs">e</tspan><tspan x="1714.06" textLength="16.94" lengthAdjust="spacingAndGlyphs">a</tspan><tspan x="1733.61" textLength="13.36" lengthAdjust="spacingAndGlyphs">r</tspan></text>
<text y="1081.80" font-size="36.77" font-weight="bold" fill="#0c6312"><tspan x="1109.29" textLength="18.53" lengthAdjust="spacingAndGlyphs">$</tspan><tspan x="1128.73" textLength="20.27" lengthAdjust="spacingAndGlyphs">2</tspan><tspan x="1148.67" textLength="20.12" lengthAdjust="spacingAndGlyphs">4</tspan><tspan x="1168.96" textLength="10.89" lengthAdjust="spacingAndGlyphs">,</tspan><tspan x="1178.79" textLength="21.80" lengthAdjust="spacingAndGlyphs">0</tspan><tspan x="1199.07" textLength="21.80" lengthAdjust="spacingAndGlyphs">0</tspan><tspan x="1219.35" textLength="21.80" lengthAdjust="spacingAndGlyphs">0</tspan><tspan x="1240.12" textLength="10.89" lengthAdjust="spacingAndGlyphs">,</tspan><tspan x="1249.95" textLength="21.80" lengthAdjust="spacingAndGlyphs">0</tspan><tspan x="1270.23" textLength="21.80" lengthAdjust="spacingAndGlyphs">0</tspan><tspan x="1290.51" textLength="21.80" lengthAdjust="spacingAndGlyphs">0</tspan></text>
<text y="1124.90" font-size="30.81" font-style="italic" fill="#0c6312"><tspan x="1160.46" textLength="10.78" lengthAdjust="spacingAndGlyphs">(</tspan><tspan x="1173.78" textLength="18.01" lengthAdjust="spacingAndGlyphs">1</tspan><tspan x="1189.92" textLength="18.01" lengthAdjust="spacingAndGlyphs">0</tspan><tspan x="1207.73" textLength="18.01" lengthAdjust="spacingAndGlyphs">0</tspan><tspan x="1224.82" textLength="26.06" lengthAdjust="spacingAndGlyphs">%</tspan><tspan x="1252.08" textLength="10.78" lengthAdjust="spacingAndGlyphs">)</tspan></text>
<text y="1081.50" font-size="36.77" font-weight="bold" fill="#0c6312"><tspan x="1543.89" textLength="17.34" lengthAdjust="spacingAndGlyphs">$</tspan><tspan x="1562.70" textLength="20.18" lengthAdjust="spacingAndGlyphs">8</tspan><tspan x="1582.23" textLength="21.82" lengthAdjust="spacingAndGlyphs">0</tspan><tspan x="1603.52" textLength="9.89" lengthAdjust="spacingAndGlyphs">,</tspan><tspan x="1613.63" textLength="20.18" lengthAdjust="spacingAndGlyphs">8</tspan><tspan x="1633.99" textLength="19.13" lengthAdjust="spacingAndGlyphs">5</tspan><tspan x="1654.29" textLength="19.13" lengthAdjust="spacingAndGlyphs">5</tspan><tspan x="1674.75" textLength="9.89" lengthAdjust="spacingAndGlyphs">,</tspan><tspan x="1684.80" textLength="20.91" lengthAdjust="spacingAndGlyphs">7</tspan><tspan x="1705.21" textLength="19.13" lengthAdjust="spacingAndGlyphs">5</tspan><tspan x="1726.08" textLength="19.80" lengthAdjust="spacingAndGlyphs">3</tspan></text>
<text y="1124.00" font-size="30.81" font-style="italic" fill="#0c6312"><tspan x="1604.50" textLength="10.02" lengthAdjust="spacingAndGlyphs">(</tspan><tspan x="1615.72" textLength="16.78" lengthAdjust="spacingAndGlyphs">6</tspan><tspan x="1634.38" textLength="16.74" lengthAdjust="spacingAndGlyphs">3</tspan><tspan x="1650.57" textLength="26.10" lengthAdjust="spacingAndGlyphs">%</tspan><tspan x="1678.08" textLength="10.02" lengthAdjust="spacingAndGlyphs">)</tspan></text>
<text y="1246.60" font-size="36.92" font-weight="bold" fill="#000000"><tspan x="1162.36" textLength="26.37" lengthAdjust="spacingAndGlyphs">N</tspan><tspan x="1188.09" textLength="28.06" lengthAdjust="spacingAndGlyphs">O</tspan><tspan x="1215.47" textLength="26.37" lengthAdjust="spacingAndGlyphs">N</tspan><tspan x="1241.14" textLength="20.70" lengthAdjust="spacingAndGlyphs">E</tspan></text>
<text y="1228.80" font-size="36.77" font-weight="bold" fill="#000000"><tspan x="1543.89" textLength="17.37" lengthAdjust="spacingAndGlyphs">$</tspan><tspan x="1562.44" textLength="20.18" lengthAdjust="spacingAndGlyphs">4</tspan><tspan x="1583.02" textLength="20.94" lengthAdjust="spacingAndGlyphs">7</tspan><tspan x="1603.54" textLength="10.08" lengthAdjust="spacingAndGlyphs">,</tspan><tspan x="1614.64" textLength="19.86" lengthAdjust="spacingAndGlyphs">9</tspan><tspan x="1633.79" textLength="20.18" lengthAdjust="spacingAndGlyphs">4</tspan><tspan x="1654.12" textLength="20.18" lengthAdjust="spacingAndGlyphs">4</tspan><tspan x="1674.88" textLength="10.08" lengthAdjust="spacingAndGlyphs">,</tspan><tspan x="1685.14" textLength="20.32" lengthAdjust="spacingAndGlyphs">2</tspan><tspan x="1705.13" textLength="20.18" lengthAdjust="spacingAndGlyphs">4</tspan><tspan x="1725.71" textLength="20.94" lengthAdjust="spacingAndGlyphs">7</tspan></text>
<text y="1271.40" font-size="31.25" font-weight="bold" font-style="italic" fill="#000000"><tspan x="1601.79" textLength="10.34" lengthAdjust="spacingAndGlyphs">(</tspan><tspan x="1614.67" textLength="17.27" lengthAdjust="spacingAndGlyphs">3</tspan><tspan x="1631.76" textLength="17.79" lengthAdjust="spacingAndGlyphs">7</tspan><tspan x="1648.78" textLength="27.38" lengthAdjust="spacingAndGlyphs">%</tspan><tspan x="1676.99" textLength="10.34" lengthAdjust="spacingAndGlyphs">)</tspan></text>
<text y="1246.60" font-size="36.77" font-weight="bold" fill="#ffffff"><tspan x="272.92" textLength="22.50" lengthAdjust="spacingAndGlyphs">R</tspan><tspan x="294.96" textLength="20.33" lengthAdjust="spacingAndGlyphs">e</tspan><tspan x="314.75" textLength="32.47" lengthAdjust="spacingAndGlyphs">m</tspan><tspan x="347.65" textLength="16.91" lengthAdjust="spacingAndGlyphs">a</tspan><tspan x="366.84" textLength="9.73" lengthAdjust="spacingAndGlyphs">i</tspan><tspan x="376.72" textLength="21.39" lengthAdjust="spacingAndGlyphs">n</tspan><tspan x="398.05" textLength="9.73" lengthAdjust="spacingAndGlyphs">i</tspan><tspan x="407.93" textLength="21.39" lengthAdjust="spacingAndGlyphs">n</tspan><tspan x="428.71" textLength="21.34" lengthAdjust="spacingAndGlyphs">g</tspan> <tspan x="457.43" textLength="22.19" lengthAdjust="spacingAndGlyphs">B</tspan><tspan x="479.34" textLength="21.82" lengthAdjust="spacingAndGlyphs">o</tspan><tspan x="501.09" textLength="21.39" lengthAdjust="spacingAndGlyphs">n</tspan><tspan x="522.17" textLength="21.54" lengthAdjust="spacingAndGlyphs">d</tspan> <tspan x="552.00" textLength="25.92" lengthAdjust="spacingAndGlyphs">A</tspan><tspan x="576.91" textLength="21.39" lengthAdjust="spacingAndGlyphs">u</tspan><tspan x="599.38" textLength="11.66" lengthAdjust="spacingAndGlyphs">t</tspan><tspan x="612.21" textLength="21.56" lengthAdjust="spacingAndGlyphs">h</tspan><tspan x="633.46" textLength="21.82" lengthAdjust="spacingAndGlyphs">o</tspan><tspan x="655.26" textLength="13.63" lengthAdjust="spacingAndGlyphs">r</tspan><tspan x="669.30" textLength="9.73" lengthAdjust="spacingAndGlyphs">i</tspan><tspan x="678.85" textLength="16.23" lengthAdjust="spacingAndGlyphs">z</tspan><tspan x="695.46" textLength="16.91" lengthAdjust="spacingAndGlyphs">a</tspan><tspan x="715.10" textLength="11.66" lengthAdjust="spacingAndGlyphs">t</tspan><tspan x="727.61" textLength="9.73" lengthAdjust="spacingAndGlyphs">i</tspan><tspan x="736.92" textLength="21.82" lengthAdjust="spacingAndGlyphs">o</tspan><tspan x="758.67" textLength="21.39" lengthAdjust="spacingAndGlyphs">n</tspan> <tspan x="789.14" textLength="19.53" lengthAdjust="spacingAndGlyphs">=</tspan></text>
<text y="1340.40" font-size="29.65" fill="#000000"><tspan x="98.64" textLength="12.10" lengthAdjust="spacingAndGlyphs">*</tspan> <tspan x="120.96" textLength="17.69" lengthAdjust="spacingAndGlyphs">6</tspan><tspan x="138.29" textLength="17.94" lengthAdjust="spacingAndGlyphs">4</tspan><tspan x="155.85" textLength="8.64" lengthAdjust="spacingAndGlyphs">.</tspan><tspan x="164.95" textLength="17.02" lengthAdjust="spacingAndGlyphs">3</tspan><tspan x="182.32" textLength="16.21" lengthAdjust="spacingAndGlyphs">5</tspan><tspan x="199.47" textLength="24.29" lengthAdjust="spacingAndGlyphs">%</tspan> <tspan x="231.62" textLength="19.54" lengthAdjust="spacingAndGlyphs">V</tspan><tspan x="251.01" textLength="18.37" lengthAdjust="spacingAndGlyphs">o</tspan><tspan x="269.10" textLength="8.64" lengthAdjust="spacingAndGlyphs">t</tspan><tspan x="279.25" textLength="17.29" lengthAdjust="spacingAndGlyphs">e</tspan><tspan x="296.83" textLength="10.35" lengthAdjust="spacingAndGlyphs">r</tspan> <tspan x="315.85" textLength="19.74" lengthAdjust="spacingAndGlyphs">A</tspan><tspan x="335.94" textLength="17.86" lengthAdjust="spacingAndGlyphs">p</tspan><tspan x="353.99" textLength="17.86" lengthAdjust="spacingAndGlyphs">p</tspan><tspan x="372.54" textLength="10.35" lengthAdjust="spacingAndGlyphs">r</tspan><tspan x="383.58" textLength="18.37" lengthAdjust="spacingAndGlyphs">o</tspan><tspan x="401.49" textLength="15.08" lengthAdjust="spacingAndGlyphs">v</tspan><tspan x="416.60" textLength="14.70" lengthAdjust="spacingAndGlyphs">a</tspan><tspan x="433.06" textLength="6.91" lengthAdjust="spacingAndGlyphs">l</tspan></text>
<text y="176.20" font-size="45.20" fill="#000000"><tspan x="137.06" textLength="25.66" lengthAdjust="spacingAndGlyphs">T</tspan><tspan x="162.61" textLength="26.63" lengthAdjust="spacingAndGlyphs">h</tspan><tspan x="189.16" textLength="25.78" lengthAdjust="spacingAndGlyphs">e</tspan> <tspan x="241.83" textLength="27.06" lengthAdjust="spacingAndGlyphs">S</tspan><tspan x="267.19" textLength="21.95" lengthAdjust="spacingAndGlyphs">c</tspan><tspan x="289.23" textLength="26.63" lengthAdjust="spacingAndGlyphs">h</tspan><tspan x="315.68" textLength="27.39" lengthAdjust="spacingAndGlyphs">o</tspan><tspan x="342.68" textLength="27.39" lengthAdjust="spacingAndGlyphs">o</tspan><tspan x="370.44" textLength="10.60" lengthAdjust="spacingAndGlyphs">l</tspan> <tspan x="410.53" textLength="32.10" lengthAdjust="spacingAndGlyphs">D</tspan><tspan x="442.75" textLength="10.60" lengthAdjust="spacingAndGlyphs">i</tspan><tspan x="454.00" textLength="20.28" lengthAdjust="spacingAndGlyphs">s</tspan><tspan x="475.71" textLength="13.26" lengthAdjust="spacingAndGlyphs">t</tspan><tspan x="491.48" textLength="15.89" lengthAdjust="spacingAndGlyphs">r</tspan><tspan x="508.95" textLength="10.60" lengthAdjust="spacingAndGlyphs">i</tspan><tspan x="520.01" textLength="21.95" lengthAdjust="spacingAndGlyphs">c</tspan><tspan x="543.53" textLength="13.26" lengthAdjust="spacingAndGlyphs">t</tspan> <tspan x="587.89" textLength="21.95" lengthAdjust="spacingAndGlyphs">c</tspan><tspan x="609.70" textLength="26.54" lengthAdjust="spacingAndGlyphs">u</tspan><tspan x="637.50" textLength="15.89" lengthAdjust="spacingAndGlyphs">r</tspan><tspan x="655.35" textLength="15.89" lengthAdjust="spacingAndGlyphs">r</tspan><tspan x="672.18" textLength="25.78" lengthAdjust="spacingAndGlyphs">e</tspan><tspan x="697.41" textLength="26.54" lengthAdjust="spacingAndGlyphs">n</tspan><tspan x="725.71" textLength="13.26" lengthAdjust="spacingAndGlyphs">t</tspan><tspan x="741.21" textLength="10.60" lengthAdjust="spacingAndGlyphs">l</tspan><tspan x="752.56" textLength="22.75" lengthAdjust="spacingAndGlyphs">y</tspan> <tspan x="804.91" textLength="26.63" lengthAdjust="spacingAndGlyphs">h</tspan><tspan x="831.14" textLength="22.56" lengthAdjust="spacingAndGlyphs">a</tspan><tspan x="856.13" textLength="20.28" lengthAdjust="spacingAndGlyphs">s</tspan> <tspan x="904.98" textLength="27.39" lengthAdjust="spacingAndGlyphs">o</tspan><tspan x="932.20" textLength="26.54" lengthAdjust="spacingAndGlyphs">u</tspan><tspan x="960.81" textLength="13.26" lengthAdjust="spacingAndGlyphs">t</tspan><tspan x="976.28" textLength="20.28" lengthAdjust="spacingAndGlyphs">s</tspan><tspan x="997.98" textLength="13.26" lengthAdjust="spacingAndGlyphs">t</tspan><tspan x="1012.42" textLength="22.56" lengthAdjust="spacingAndGlyphs">a</tspan><tspan x="1037.06" textLength="26.54" lengthAdjust="spacingAndGlyphs">n</tspan><tspan x="1063.47" textLength="26.53" lengthAdjust="spacingAndGlyphs">d</tspan><tspan x="1091.07" textLength="10.60" lengthAdjust="spacingAndGlyphs">i</tspan><tspan x="1102.61" textLength="26.54" lengthAdjust="spacingAndGlyphs">n</tspan><tspan x="1128.76" textLength="26.71" lengthAdjust="spacingAndGlyphs">g</tspan> <tspan x="1182.88" textLength="26.53" lengthAdjust="spacingAndGlyphs">b</tspan><tspan x="1209.06" textLength="27.39" lengthAdjust="spacingAndGlyphs">o</tspan><tspan x="1236.58" textLength="26.54" lengthAdjust="spacingAndGlyphs">n</tspan><tspan x="1263.00" textLength="26.53" lengthAdjust="spacingAndGlyphs">d</tspan><tspan x="1290.10" textLength="20.28" lengthAdjust="spacingAndGlyphs">s</tspan> <tspan x="1339.70" textLength="10.60" lengthAdjust="spacingAndGlyphs">i</tspan><tspan x="1351.23" textLength="26.54" lengthAdjust="spacingAndGlyphs">n</tspan> <tspan x="1406.74" textLength="21.95" lengthAdjust="spacingAndGlyphs">c</tspan><tspan x="1428.33" textLength="27.39" lengthAdjust="spacingAndGlyphs">o</tspan><tspan x="1455.43" textLength="26.54" lengthAdjust="spacingAndGlyphs">n</tspan><tspan x="1482.33" textLength="26.54" lengthAdjust="spacingAndGlyphs">n</tspan><tspan x="1508.81" textLength="25.78" lengthAdjust="spacingAndGlyphs">e</tspan><tspan x="1534.24" textLength="21.95" lengthAdjust="spacingAndGlyphs">c</tspan><tspan x="1557.76" textLength="13.26" lengthAdjust="spacingAndGlyphs">t</tspan><tspan x="1573.72" textLength="10.60" lengthAdjust="spacingAndGlyphs">i</tspan><tspan x="1584.36" textLength="27.39" lengthAdjust="spacingAndGlyphs">o</tspan><tspan x="1611.88" textLength="26.54" lengthAdjust="spacingAndGlyphs">n</tspan> <tspan x="1668.12" textLength="35.36" lengthAdjust="spacingAndGlyphs">w</tspan><tspan x="1704.67" textLength="10.60" lengthAdjust="spacingAndGlyphs">i</tspan><tspan x="1717.61" textLength="13.26" lengthAdjust="spacingAndGlyphs">t</tspan><tspan x="1733.28" textLength="26.63" lengthAdjust="spacingAndGlyphs">h</tspan> <tspan x="1790.73" textLength="13.26" lengthAdjust="spacingAndGlyphs">t</tspan><tspan x="1806.75" textLength="35.36" lengthAdjust="spacingAndGlyphs">w</tspan><tspan x="1842.56" textLength="27.39" lengthAdjust="spacingAndGlyphs">o</tspan> <tspan x="1897.49" textLength="15.89" lengthAdjust="spacingAndGlyphs">(</tspan><tspan x="1913.80" textLength="26.22" lengthAdjust="spacingAndGlyphs">2</tspan><tspan x="1940.38" textLength="15.89" lengthAdjust="spacingAndGlyphs">)</tspan></text>
<text y="237.60" font-size="45.20" fill="#000000"><tspan x="138.40" textLength="20.32" lengthAdjust="spacingAndGlyphs">s</tspan><tspan x="158.32" textLength="25.84" lengthAdjust="spacingAndGlyphs">e</tspan><tspan x="184.39" textLength="26.68" lengthAdjust="spacingAndGlyphs">p</tspan><tspan x="210.51" textLength="22.60" lengthAdjust="spacingAndGlyphs">a</tspan><tspan x="236.43" textLength="15.92" lengthAdjust="spacingAndGlyphs">r</tspan><tspan x="252.99" textLength="22.60" lengthAdjust="spacingAndGlyphs">a</tspan><tspan x="278.66" textLength="13.28" lengthAdjust="spacingAndGlyphs">t</tspan><tspan x="293.53" textLength="25.84" lengthAdjust="spacingAndGlyphs">e</tspan> <tspan x="329.79" textLength="26.77" lengthAdjust="spacingAndGlyphs">g</tspan><tspan x="354.27" textLength="25.84" lengthAdjust="spacingAndGlyphs">e</tspan><tspan x="379.81" textLength="26.61" lengthAdjust="spacingAndGlyphs">n</tspan><tspan x="406.34" textLength="25.84" lengthAdjust="spacingAndGlyphs">e</tspan><tspan x="432.91" textLength="15.92" lengthAdjust="spacingAndGlyphs">r</tspan><tspan x="449.46" textLength="22.60" lengthAdjust="spacingAndGlyphs">a</tspan><tspan x="473.96" textLength="10.62" lengthAdjust="spacingAndGlyphs">l</tspan> <tspan x="496.58" textLength="27.45" lengthAdjust="spacingAndGlyphs">o</tspan><tspan x="524.36" textLength="26.59" lengthAdjust="spacingAndGlyphs">b</tspan><tspan x="551.36" textLength="10.62" lengthAdjust="spacingAndGlyphs">l</tspan><tspan x="563.12" textLength="10.62" lengthAdjust="spacingAndGlyphs">i</tspan><tspan x="573.93" textLength="26.77" lengthAdjust="spacingAndGlyphs">g</tspan><tspan x="598.10" textLength="22.60" lengthAdjust="spacingAndGlyphs">a</tspan><tspan x="623.87" textLength="13.28" lengthAdjust="spacingAndGlyphs">t</tspan><tspan x="639.40" textLength="10.62" lengthAdjust="spacingAndGlyphs">i</tspan><tspan x="650.05" textLength="27.45" lengthAdjust="spacingAndGlyphs">o</tspan><tspan x="677.64" textLength="26.61" lengthAdjust="spacingAndGlyphs">n</tspan> <tspan x="716.40" textLength="26.59" lengthAdjust="spacingAndGlyphs">b</tspan><tspan x="742.64" textLength="27.45" lengthAdjust="spacingAndGlyphs">o</tspan><tspan x="770.23" textLength="26.61" lengthAdjust="spacingAndGlyphs">n</tspan><tspan x="796.71" textLength="26.59" lengthAdjust="spacingAndGlyphs">d</tspan> <tspan x="835.33" textLength="25.84" lengthAdjust="spacingAndGlyphs">e</tspan><tspan x="861.52" textLength="10.62" lengthAdjust="spacingAndGlyphs">l</tspan><tspan x="872.64" textLength="25.84" lengthAdjust="spacingAndGlyphs">e</tspan><tspan x="898.13" textLength="22.00" lengthAdjust="spacingAndGlyphs">c</tspan><tspan x="921.71" textLength="13.28" lengthAdjust="spacingAndGlyphs">t</tspan><tspan x="937.71" textLength="10.62" lengthAdjust="spacingAndGlyphs">i</tspan><tspan x="948.36" textLength="27.45" lengthAdjust="spacingAndGlyphs">o</tspan><tspan x="975.95" textLength="26.61" lengthAdjust="spacingAndGlyphs">n</tspan><tspan x="1002.64" textLength="20.32" lengthAdjust="spacingAndGlyphs">s</tspan><tspan x="1022.46" textLength="13.28" lengthAdjust="spacingAndGlyphs">.</tspan></text>
</svg>
</body></html>
